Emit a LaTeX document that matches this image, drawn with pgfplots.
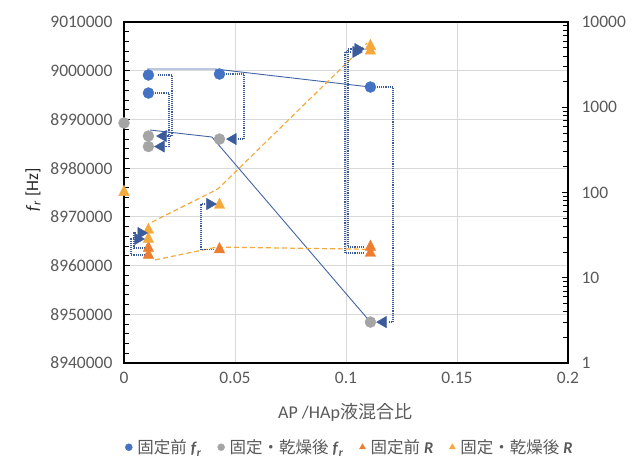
\documentclass[border=0pt]{standalone}
\usepackage{pgfplots}
\pgfplotsset{compat=1.18}
\usepackage{fontspec}
\setmainfont{Carlito}
\newfontfamily\jp{Noto Sans CJK JP}

\definecolor{fblue}{HTML}{4472C4}
\definecolor{fgray}{HTML}{A5A5A5}
\definecolor{rred}{HTML}{ED7D31}
\definecolor{rgold}{HTML}{F6A93B}
\definecolor{navy}{HTML}{3C5B9B}
\definecolor{trend}{HTML}{4264A4}
\definecolor{gridgray}{HTML}{D9D9D9}
\definecolor{txtgray}{HTML}{595959}

\pgfplotsset{
  bracket/.style={navy, line width=1.4pt, dash pattern=on 1.1pt off 1pt, forget plot},
  arrowL/.style={only marks, mark=triangle*, mark size=6.5pt, navy, mark options={rotate=90}, forget plot},
  arrowR/.style={only marks, mark=triangle*, mark size=6.5pt, navy, mark options={rotate=-90}, forget plot},
}

\begin{document}
\begin{tikzpicture}
\useasboundingbox (0,0) rectangle (632pt,459pt);

% resonance frequency (left axis)
\begin{axis}[
  at={(124pt,96pt)}, anchor=south west, scale only axis,
  width=444pt, height=341pt,
  xmin=0, xmax=0.2, ymin=8940000, ymax=9010000,
  clip=false,
  xtick={0,0.05,0.1,0.15,0.2}, xticklabels={0,0.05,0.1,0.15,0.2},
  ytick={8940000,8950000,8960000,8970000,8980000,8990000,9000000,9010000},
  yticklabels={8940000,8950000,8960000,8970000,8980000,8990000,9000000,9010000},
  scaled y ticks=false,
  minor y tick num=4,
  xtick pos=bottom, ytick pos=left,
  tick align=inside,
  major tick length=6pt, minor tick length=5pt,
  tick style={black, line width=0.8pt},
  major x tick style={draw=none},
  xmajorgrids, ymajorgrids,
  grid style={draw=gridgray, line width=0.9pt},
  axis line style={black, line width=1.2pt},
  tick label style={font=\fontsize{17.5}{20}\selectfont, text=txtgray},
  xticklabel style={yshift=-6pt},
  yticklabel style={xshift=-8pt},
  xlabel={AP /HAp{\jp 液混合比}},
  xlabel style={at={(0.498,-0.144)}, anchor=center, font=\fontsize{18}{21}\selectfont, text=txtgray},
  ylabel={\textit{f}\textsubscript{\textit{r}} [Hz]},
  ylabel style={at={(-0.205,0.507)}, anchor=center, font=\fontsize{17.5}{20}\selectfont, text=black!85},
]
% trend lines
\addplot[trend, line width=0.9pt] coordinates {(0.0104,9000350) (0.041,9000350) (0.111,8996650)};
\addplot[trend, line width=0.9pt] coordinates {(0.0117,8987830) (0.0396,8986390) (0.111,8948400)};
% before/after brackets
\addplot[bracket] coordinates {(0.0153,8999120) (0.0216,8999120) (0.0216,8986590) (0.0194,8986590)};
\addplot[bracket] coordinates {(0.0140,8995420) (0.0203,8995420) (0.0203,8984440) (0.0185,8984440)};
\addplot[bracket] coordinates {(0.0460,8999320) (0.0541,8999320) (0.0541,8985970) (0.0514,8985970)};
\addplot[bracket] coordinates {(0.1140,8996650) (0.1212,8996650) (0.1212,8948400) (0.1189,8948400)};
% measured values
\addplot[only marks, mark=*, mark size=5.5pt, fblue, forget plot]
  coordinates {(0.011,8999120) (0.011,8995420) (0.043,8999320) (0.111,8996650)};
\addplot[only marks, mark=*, mark size=5.5pt, fgray, forget plot]
  coordinates {(0,8989270) (0.011,8986590) (0.011,8984440) (0.043,8985970) (0.111,8948400)};
\addplot[arrowL] coordinates {(0.0176,8986590) (0.0167,8984440) (0.0491,8985970) (0.1167,8948400)};
\end{axis}

% resistance (right axis, logarithmic)
\begin{axis}[
  at={(124pt,96pt)}, anchor=south west, scale only axis,
  width=444pt, height=341pt,
  xmin=0, xmax=0.2, ymode=log, ymin=1, ymax=10000,
  clip=false,
  axis y line*=right, axis x line=none,
  ytick={1,10,100,1000,10000}, yticklabels={1,10,100,1000,10000},
  minor ytick={2,3,4,5,6,7,8,9,20,30,40,50,60,70,80,90,200,300,400,500,600,700,800,900,2000,3000,4000,5000,6000,7000,8000,9000},
  tick align=inside,
  major tick length=6pt, minor tick length=5pt,
  tick style={black, line width=0.8pt},
  axis line style={black, line width=1.2pt},
  tick label style={font=\fontsize{17.5}{20}\selectfont, text=txtgray},
  yticklabel style={xshift=10pt},
  legend columns=4,
  legend style={at={(0.509,-0.247)}, anchor=center, draw=none, fill=none,
    font=\fontsize{16.5}{19}\selectfont, text=txtgray,
    /tikz/every odd column/.append style={column sep=3pt},
    /tikz/every even column/.append style={column sep=14pt}},
]
\addplot[rgold, line width=1.2pt, dash pattern=on 5pt off 3pt, forget plot]
  coordinates {(0.0126,45) (0.0423,110) (0.1095,5670)};
\addplot[rgold, line width=1.2pt, dash pattern=on 5pt off 3pt, forget plot]
  coordinates {(0.0140,16.2) (0.0419,22.9) (0.1095,21.6)};
\addplot[bracket] coordinates {(0.0095,22.3) (0.0045,22.3) (0.0045,33.5) (0.0054,33.5)};
\addplot[bracket] coordinates {(0.0095,18.5) (0.0032,18.5) (0.0032,28.5) (0.0041,28.5)};
\addplot[bracket] coordinates {(0.0405,21.5) (0.0347,21.5) (0.0347,73.3) (0.0360,73.3)};
\addplot[bracket] coordinates {(0.1081,23.0) (0.1009,23.0) (0.1009,4820) (0.1027,4820)};
\addplot[bracket] coordinates {(0.1081,19.5) (0.0996,19.5) (0.0996,4450) (0.1018,4450)};
\addplot[only marks, mark=triangle*, mark size=6pt, rred, mark options={yscale=1.15}, forget plot]
  coordinates {(0.011,22.3) (0.011,18.5) (0.043,21.5) (0.111,23.0) (0.111,19.5)};
\addplot[only marks, mark=triangle*, mark size=6pt, rgold, mark options={yscale=1.15}, forget plot]
  coordinates {(0,101) (0.011,36.3) (0.011,28.5) (0.043,71.3) (0.111,5200) (0.111,4600)};
\addplot[arrowR] coordinates {(0.0077,33.5) (0.0063,28.5) (0.0387,73.3) (0.1054,4820) (0.1045,4450)};

\addlegendimage{only marks, mark=*, mark size=3.5pt, fblue}
\addlegendentry{{\jp 固定前}\hspace{4pt}\textbf{\textit{f}\textsubscript{\textit{r}}}}
\addlegendimage{only marks, mark=*, mark size=3.5pt, fgray}
\addlegendentry{{\jp 固定・乾燥後}\hspace{4pt}\textbf{\textit{f}\textsubscript{\textit{r}}}}
\addlegendimage{only marks, mark=triangle*, mark size=3.5pt, rred}
\addlegendentry{{\jp 固定前}\hspace{4pt}\textbf{\textit{R}}}
\addlegendimage{only marks, mark=triangle*, mark size=3.5pt, rgold}
\addlegendentry{{\jp 固定・乾燥後}\hspace{4pt}\textbf{\textit{R}}}
\end{axis}
\end{tikzpicture}
\end{document}
